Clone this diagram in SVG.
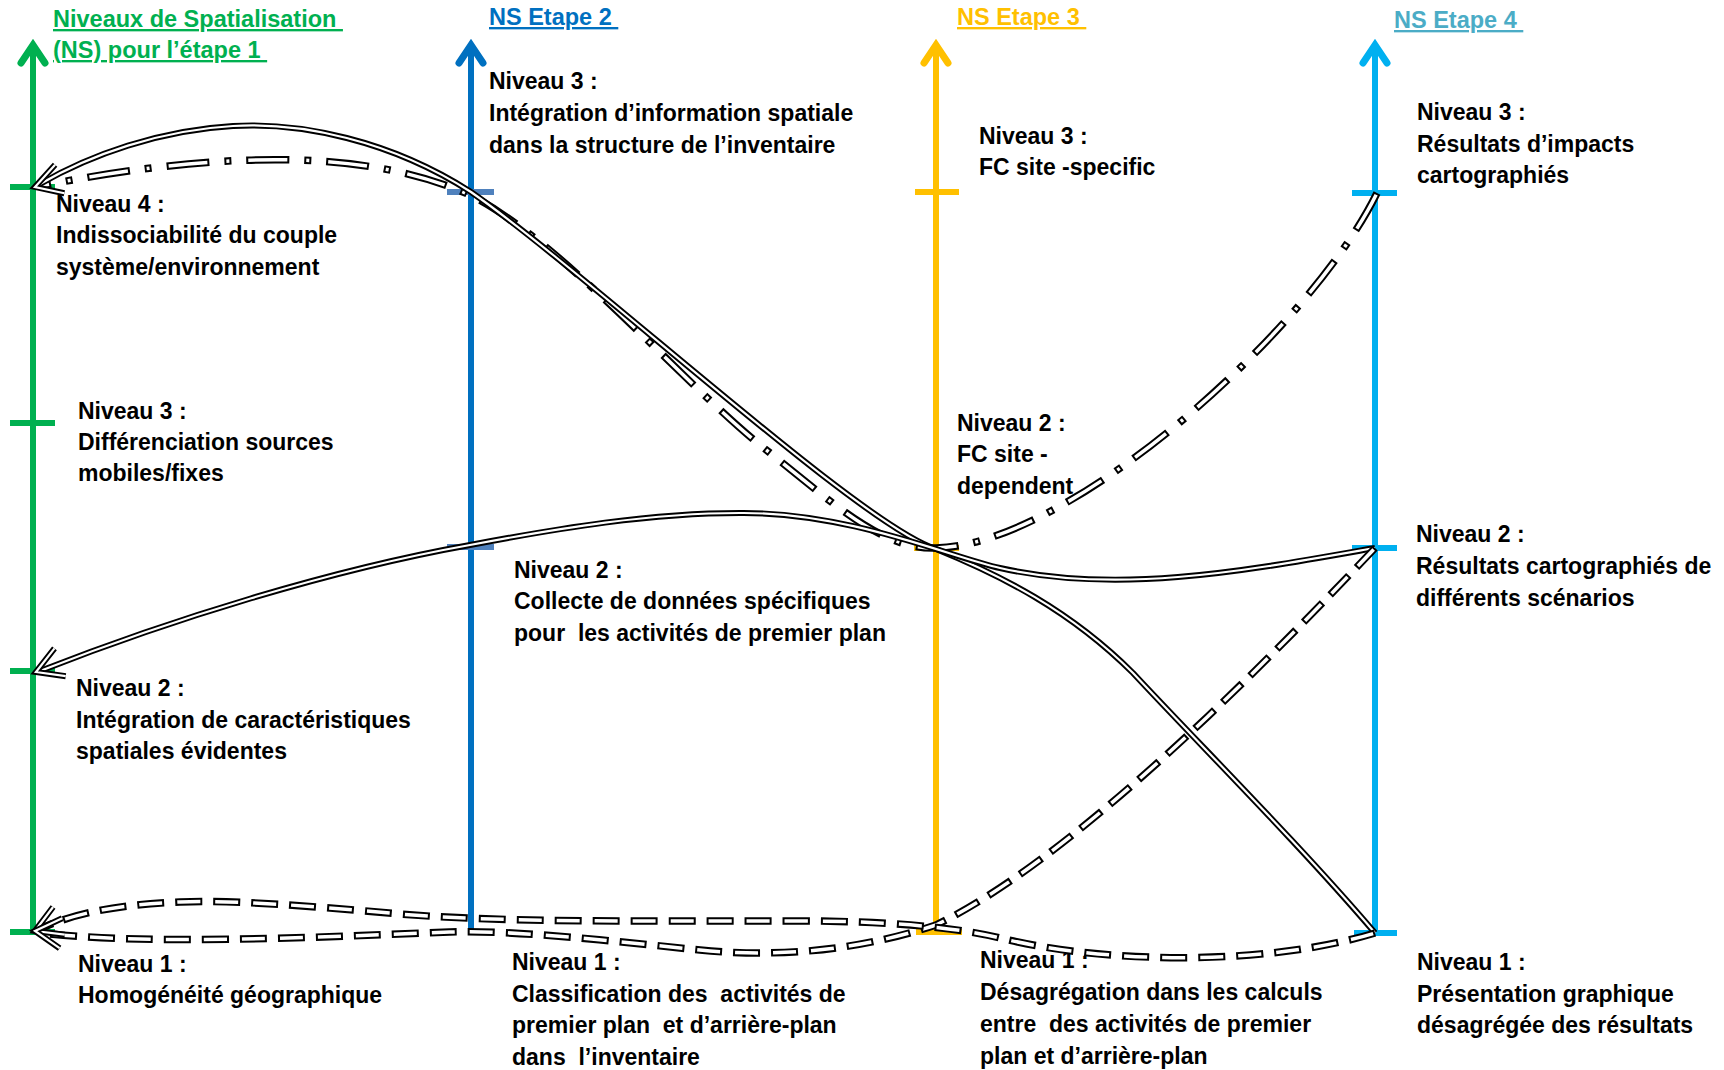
<svg xmlns="http://www.w3.org/2000/svg" xmlns:xlink="http://www.w3.org/1999/xlink" width="1724" height="1070" viewBox="0 0 1724 1070">
<style>
text{font-family:"Liberation Sans",Arial,sans-serif;font-weight:bold;white-space:pre}
.t{font-size:23px;fill:#000}
.h{font-size:23.5px;text-decoration:underline}
.axis{fill:none;stroke-width:6}
.tip{fill:none;stroke-width:7;stroke-linecap:round;stroke-linejoin:miter}
.tick{stroke-width:6}
.so{fill:none;stroke:#000;stroke-width:6}
.si{fill:none;stroke:#fff;stroke-width:2.2}
.do{fill:none;stroke:#000;stroke-width:7.5;stroke-dasharray:27 11}
.di{fill:none;stroke:#fff;stroke-width:3.5;stroke-dasharray:23 15;stroke-dashoffset:-2}
.ddo{fill:none;stroke:#000;stroke-width:7.5;stroke-dasharray:43 15 7 15}
.ddi{fill:none;stroke:#fff;stroke-width:3.5;stroke-dasharray:39 19 3 19;stroke-dashoffset:-2}
.ao{fill:none;stroke:#000;stroke-width:6;stroke-linejoin:miter}
.ai{fill:none;stroke:#fff;stroke-width:2.2;stroke-linejoin:miter}
</style>
<defs>
<path id="ah" d="M 26 -15 L 0 0 L 26 15"/>
<g id="arrow"><use xlink:href="#ah" class="ao"/><use xlink:href="#ah" class="ai"/></g>
<path id="p1" d="M 1375 933 C 1300 845, 1200 745, 1133 673 C 1070 610, 1000 575, 936 549 C 860 525, 590 275, 471 192 C 390 140, 300 122, 233 126 C 160 130, 90 155, 40 184"/>
<path id="p2" d="M 1377 193 C 1310 330, 1070 545, 936 548 C 880 550, 830 500, 760 445 C 680 380, 560 240, 470 195 C 380 155, 250 145, 40 186"/>
<path id="p3" d="M 1375 548 C 1250 570, 1120 595, 1000 568 C 950 557, 850 512, 740 513 C 650 513, 560 528, 470 545 C 330 570, 170 620, 40 671"/>
<path id="p4" d="M 1375 548 C 1250 680, 1070 860, 936 925 C 860 950, 780 958, 700 950 C 620 942, 520 930, 450 932 C 300 938, 150 945, 40 933"/>
<path id="p5" d="M 1375 933 C 1270 965, 1110 965, 1000 938 C 950 926, 880 921, 800 921 C 600 921, 500 922, 400 914 C 300 905, 230 900, 180 902 C 110 905, 70 915, 40 929"/>
</defs>
<rect width="1724" height="1070" fill="#fff"/>

<g id="axis-etape1" stroke="#00B050">
<line class="axis" x1="33" y1="46" x2="33" y2="935"/>
<polyline class="tip" points="21,63 33,45 45,63"/>
<line class="tick" x1="10" y1="187" x2="55" y2="187"/>
<line class="tick" x1="10" y1="423" x2="55" y2="423"/>
<line class="tick" x1="10" y1="671" x2="55" y2="671"/>
<line class="tick" x1="10" y1="932" x2="55" y2="932"/>
</g>
<g id="axis-etape2">
<line class="axis" stroke="#0070C0" x1="471" y1="46" x2="471" y2="934"/>
<polyline class="tip" stroke="#0070C0" points="459,63 471,45 483,63"/>
<line class="tick" stroke="#4F81BD" x1="447" y1="192" x2="494" y2="192"/>
<line class="tick" stroke="#4F81BD" x1="447" y1="547" x2="494" y2="547"/>
</g>
<g id="axis-etape3" stroke="#FFC000">
<line class="axis" x1="936" y1="46" x2="936" y2="935"/>
<polyline class="tip" points="924,63 936,45 948,63"/>
<line class="tick" x1="915" y1="192" x2="959" y2="192"/>
<line class="tick" x1="914" y1="548" x2="959" y2="548"/>
<line class="tick" x1="916" y1="932" x2="962" y2="932"/>
</g>
<g id="axis-etape4" stroke="#00B0F0">
<line class="axis" x1="1375" y1="46" x2="1375" y2="935"/>
<polyline class="tip" points="1363,63 1375,45 1387,63"/>
<line class="tick" x1="1352" y1="193" x2="1397" y2="193"/>
<line class="tick" x1="1352" y1="548" x2="1397" y2="548"/>
<line class="tick" x1="1354" y1="933" x2="1397" y2="933"/>
</g>

<g id="headers">
<text class="h" fill="#00B050" x="53" y="27">Niveaux de Spatialisation </text>
<text class="h" fill="#00B050" x="53" y="58">(NS) pour l’étape 1 </text>
<text class="h" fill="#0070C0" x="489" y="25">NS Etape 2 </text>
<text class="h" fill="#FFC000" x="957" y="25">NS Etape 3 </text>
<text class="h" fill="#4BACC6" x="1394" y="28">NS Etape 4 </text>
</g>

<g id="e1-n4"><text class="t" x="56" y="212">Niveau 4 :</text><text class="t" x="56" y="243">Indissociabilité du couple</text><text class="t" x="56" y="275">système/environnement</text></g>
<g id="e1-n3"><text class="t" x="78" y="419">Niveau 3 :</text><text class="t" x="78" y="450">Différenciation sources</text><text class="t" x="78" y="481">mobiles/fixes</text></g>
<g id="e1-n2"><text class="t" x="76" y="696">Niveau 2 :</text><text class="t" x="76" y="728">Intégration de caractéristiques</text><text class="t" x="76" y="759">spatiales évidentes</text></g>
<g id="e1-n1"><text class="t" x="78" y="972">Niveau 1 :</text><text class="t" x="78" y="1003">Homogénéité géographique</text></g>

<g id="e2-n3"><text class="t" x="489" y="89">Niveau 3 :</text><text class="t" x="489" y="121">Intégration d’information spatiale</text><text class="t" x="489" y="153">dans la structure de l’inventaire</text></g>
<g id="e2-n2"><text class="t" x="514" y="578">Niveau 2 :</text><text class="t" x="514" y="609">Collecte de données spécifiques</text><text class="t" x="514" y="641">pour  les activités de premier plan</text></g>
<g id="e2-n1"><text class="t" x="512" y="970">Niveau 1 :</text><text class="t" x="512" y="1002">Classification des  activités de</text><text class="t" x="512" y="1033">premier plan  et d’arrière-plan</text><text class="t" x="512" y="1065">dans  l’inventaire</text></g>

<g id="e3-n3"><text class="t" x="979" y="144">Niveau 3 :</text><text class="t" x="979" y="175">FC site -specific</text></g>
<g id="e3-n2"><text class="t" x="957" y="431">Niveau 2 :</text><text class="t" x="957" y="462">FC site -</text><text class="t" x="957" y="494">dependent</text></g>
<g id="e3-n1"><text class="t" x="980" y="968">Niveau 1 :</text><text class="t" x="980" y="1000">Désagrégation dans les calculs</text><text class="t" x="980" y="1032">entre  des activités de premier</text><text class="t" x="980" y="1064">plan et d’arrière-plan</text></g>

<g id="e4-n3"><text class="t" x="1417" y="120">Niveau 3 :</text><text class="t" x="1417" y="152">Résultats d’impacts</text><text class="t" x="1417" y="183">cartographiés</text></g>
<g id="e4-n2"><text class="t" x="1416" y="542">Niveau 2 :</text><text class="t" x="1416" y="574">Résultats cartographiés de</text><text class="t" x="1416" y="606">différents scénarios</text></g>
<g id="e4-n1"><text class="t" x="1417" y="970">Niveau 1 :</text><text class="t" x="1417" y="1002">Présentation graphique</text><text class="t" x="1417" y="1033">désagrégée des résultats</text></g>

<g id="connectors">
<use xlink:href="#p2" class="ddo"/><use xlink:href="#p2" class="ddi"/>
<use xlink:href="#p1" class="so"/><use xlink:href="#p1" class="si"/>
<use xlink:href="#p3" class="so"/><use xlink:href="#p3" class="si"/>
<use xlink:href="#p4" class="do"/><use xlink:href="#p4" class="di"/>
<use xlink:href="#p5" class="do"/><use xlink:href="#p5" class="di"/>
<use xlink:href="#arrow" transform="translate(35 187) rotate(-18)"/>
<use xlink:href="#arrow" transform="translate(36 672) rotate(-22)"/>
<use xlink:href="#arrow" transform="translate(35 931) rotate(-23)"/>
<use xlink:href="#arrow" transform="translate(35 931) rotate(5)"/>
</g>
</svg>
